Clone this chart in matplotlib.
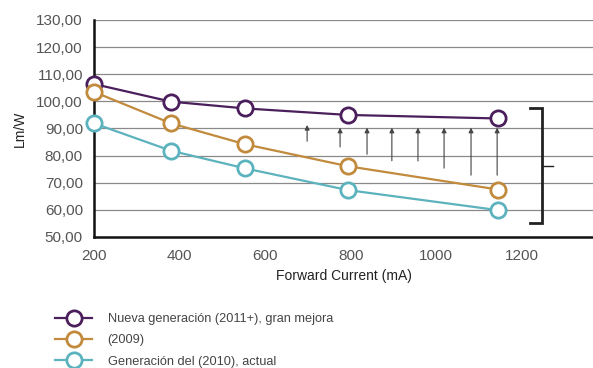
import matplotlib.pyplot as plt

# forward current (mA) and efficacy (Lm/W) per LED generation
current = [200, 380, 553, 793, 1144]
nueva = [106.4, 99.9, 97.4, 95.0, 93.7]
gen_2009 = [103.5, 91.9, 84.2, 76.1, 67.5]
gen_2010 = [91.9, 81.8, 75.3, 67.3, 59.9]

labels = ['Nueva generación (2011+), gran mejora', '(2009)', 'Generación del (2010), actual']
colors = ['#4b1f5c', '#c18a3c', '#5cb3bd']

# improvement arrows: x position, tail and head values
arrow_x = [698, 775, 838, 896, 957, 1018, 1081, 1142]
arrow_tail = [85.3, 83.2, 80.5, 78.1, 78.0, 75.4, 72.8, 72.8]
arrow_head = [91.3, 90.3, 90.3, 90.3, 90.3, 90.3, 90.3, 90.3]

xticks = [200, 400, 600, 800, 1000, 1200]
yticks = [50, 60, 70, 80, 90, 100, 110, 120, 130]

plt.rcParams['font.family'] = ['Liberation Sans', 'DejaVu Sans']

fig = plt.figure(figsize=(5.93, 3.68), dpi=100)
ax = fig.add_axes([94/593, 1 - 237/368, 499/593, 217/368])

for y in yticks[1:]:
    ax.axhline(y, color='#8a8a8a', lw=0.9, zorder=1)

lines = []
for ys, c, lab in zip([nueva, gen_2009, gen_2010], colors, labels):
    ln, = ax.plot(current, ys, color=c, lw=1.6, marker='o', ms=11,
                  mfc='white', mec=c, mew=2, zorder=4, clip_on=False, label=lab)
    lines.append(ln)

for x, t, h in zip(arrow_x, arrow_tail, arrow_head):
    ax.annotate('', xy=(x, h), xytext=(x, t),
                arrowprops=dict(arrowstyle='-|>', color='#444444', lw=0.8,
                                mutation_scale=7, shrinkA=0, shrinkB=0), zorder=3)

# bracket on the right
bx, by0, by1 = 1247, 55.0, 97.5
ax.plot([1219, bx, bx, 1219], [by1, by1, by0, by0], color='#222222', lw=2,
        solid_joinstyle='miter', zorder=3)
ax.plot([bx, 1272], [76.1, 76.1], color='#222222', lw=1, zorder=3)

ax.set_xlim(200, 1366)
ax.set_ylim(50, 130)
ax.set_xticks(xticks)
ax.set_yticks(yticks)
ax.set_yticklabels(['%d,00' % v for v in yticks])
ax.tick_params(length=0, labelsize=11, colors='#555555', pad=8)
ax.tick_params(axis='x', pad=9)
for s in ['top', 'right']:
    ax.spines[s].set_visible(False)
for s in ['left', 'bottom']:
    ax.spines[s].set_linewidth(1.8)
    ax.spines[s].set_color('#111111')

ax.set_xlabel('Forward Current (mA)', fontsize=10, color='#222222', labelpad=4)
ax.set_ylabel('Lm/W', fontsize=10, color='#222222', labelpad=7)

fig.legend(handles=lines, loc='upper left', bbox_to_anchor=(50/593, 1 - 308/368),
           frameon=False, fontsize=9.2, handlelength=2.9, handletextpad=1.2,
           labelspacing=0.72, labelcolor='#444444', borderaxespad=0)

fig.savefig('out.png', dpi=100)
